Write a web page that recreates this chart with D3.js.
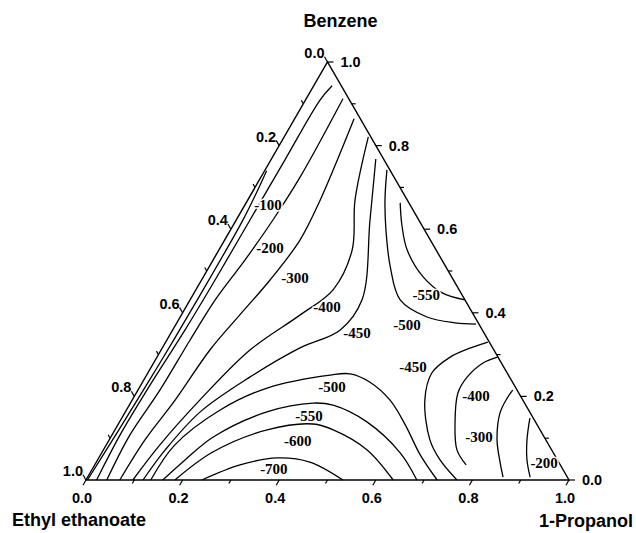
<!DOCTYPE html>
<html><head><meta charset="utf-8">
<script src="https://cdn.jsdelivr.net/npm/d3@7"></script>
<style>
body{margin:0;background:#fff;}
svg{display:block;}
</style></head>
<body><svg id="chart" width="636" height="533"></svg>
<script>
// ---- axis data ----
const tickValues = [0, 0.2, 0.4, 0.6, 0.8, 1.0];
const tickLabels = ["0.0", "0.2", "0.4", "0.6", "0.8", "1.0"];
const minorTickValues = [0.1, 0.3, 0.5, 0.7, 0.9];
const axisTitles = ["Benzene", "Ethyl ethanoate", "1-Propanol"];

// ---- contour lines: [x(1-Propanol), x(Benzene)] ----
const lineNearEdge = [[0.004,0.74],[0.010,0.68],[0.014,0.62],[0.015,0.44],[0.013,0.28],[0.008,0.12],[0.003,0.0]];
const line100 = [[0.038,0.943],[0.030,0.909],[0.029,0.766],[0.0285,0.622],[0.028,0.479],[0.0256,0.359],[0.019,0.227],[0.0166,0.108],[0.022,0.0]];
const line200 = [[0.076,0.912],[0.081,0.725],[0.076,0.622],[0.066,0.526],[0.052,0.431],[0.048,0.335],[0.0455,0.215],[0.037,0.108],[0.043,0.0]];
const line300 = [[0.123,0.864],[0.150,0.670],[0.156,0.574],[0.142,0.479],[0.121,0.395],[0.101,0.311],[0.089,0.191],[0.074,0.096],[0.070,0.0]];
const line400L = [[0.174,0.821],[0.222,0.670],[0.276,0.550],[0.284,0.455],[0.246,0.395],[0.184,0.311],[0.140,0.191],[0.111,0.084],[0.097,0.0]];
const line450L = [[0.216,0.768],[0.277,0.622],[0.356,0.431],[0.347,0.359],[0.285,0.316],[0.216,0.246],[0.155,0.163],[0.128,0.072],[0.118,0.0]];
const line500U = [[0.252,0.742],[0.284,0.670],[0.322,0.598],[0.375,0.510],[0.435,0.431],[0.511,0.390],[0.576,0.376],[0.621,0.373]];
const line550U = [[0.319,0.663],[0.349,0.610],[0.390,0.550],[0.455,0.486],[0.515,0.447],[0.569,0.431]];
const line500D = [[0.134,0.0],[0.142,0.084],[0.194,0.1675],[0.265,0.220],[0.380,0.251],[0.420,0.254],[0.471,0.234],[0.534,0.191],[0.595,0.132],[0.662,0.060],[0.727,0.0]];
const line550D = [[0.159,0.0],[0.181,0.048],[0.212,0.103],[0.293,0.163],[0.378,0.184],[0.422,0.179],[0.512,0.139],[0.618,0.065],[0.685,0.0]];
const line600D = [[0.184,0.0],[0.229,0.067],[0.315,0.120],[0.403,0.134],[0.452,0.120],[0.546,0.072],[0.636,0.0]];
const line700D = [[0.240,0.0],[0.301,0.036],[0.369,0.053],[0.442,0.043],[0.532,0.0]];
const line450R = [[0.768,0.0],[0.709,0.048],[0.664,0.096],[0.606,0.191],[0.588,0.256],[0.607,0.294],[0.642,0.318],[0.667,0.330]];
const line400R = [[0.705,0.294],[0.682,0.280],[0.666,0.246],[0.666,0.208],[0.696,0.136],[0.732,0.072],[0.769,0.036]];
const line300R = [[0.776,0.215],[0.774,0.196],[0.777,0.160],[0.803,0.096],[0.837,0.041],[0.860,0.007]];
const line200R = [[0.845,0.148],[0.865,0.096],[0.889,0.048],[0.916,0.007]];
const contourLines = [lineNearEdge, line100, line200, line300, line400L, line450L, line500U, line550U,
  line500D, line550D, line600D, line700D, line450R, line400R, line300R, line200R];

// ---- contour labels: [text, x(1-Propanol), x(Benzene)] ----
const labelText = ["-100","-200","-300","-400","-450","-500","-550","-500","-550","-600","-700","-450","-400","-300","-200"];
const labelPropanol = [0.048,0.1035,0.191,0.292,0.385,0.479,0.483,0.398,0.385,0.392,0.376,0.542,0.707,0.762,0.928];
const labelBenzene = [0.658,0.555,0.483,0.414,0.352,0.371,0.443,0.2225,0.153,0.093,0.026,0.270,0.201,0.103,0.041];

// ---- drawing ----
const svg = d3.select("#chart");
const sx = d3.scaleLinear().domain([0, 1]).range([86, 569]);
const sy = d3.scaleLinear().domain([0, 1]).range([480, 62]);
const px = (p, b) => sx(p + b / 2);
const py = (p, b) => sy(b);

const sansFont = "'Liberation Sans', Arial, sans-serif";
const serifFont = "'Liberation Serif', 'Times New Roman', serif";

// triangle frame
const corners = [[0,0],[1,0],[0,1]];
svg.append("path")
  .attr("d", d3.line().x(d => px(d[0], d[1])).y(d => py(d[0], d[1]))(corners) + "Z")
  .attr("fill", "none").attr("stroke", "#000").attr("stroke-width", 1.4);

// contours
const lineGen = d3.line().x(d => px(d[0], d[1])).y(d => py(d[0], d[1])).curve(d3.curveCatmullRom.alpha(0.5));
svg.append("g").selectAll("path").data(contourLines).join("path")
  .attr("d", lineGen).attr("fill", "none").attr("stroke", "#000").attr("stroke-width", 1.3);

// ticks
const cos60 = 0.5, sin60 = Math.sqrt(3) / 2;
const g = svg.append("g").attr("stroke", "#000").attr("stroke-width", 1.2);
const allTicks = tickValues.map(v => ({v, L: 6})).concat(minorTickValues.map(v => ({v, L: 4})));
// bottom axis (1-Propanol): ticks pointing down-left
allTicks.forEach(t => {
  const x = px(t.v, 0), y = py(t.v, 0);
  g.append("line").attr("x1", x).attr("y1", y).attr("x2", x - t.L * cos60).attr("y2", y + t.L * sin60);
});
// right axis (Benzene): ticks pointing right
allTicks.forEach(t => {
  const x = px(1 - t.v, t.v), y = py(1 - t.v, t.v);
  g.append("line").attr("x1", x).attr("y1", y).attr("x2", x + t.L).attr("y2", y);
});
// left axis (Ethyl ethanoate): ticks pointing up-left
allTicks.forEach(t => {
  const x = px(0, 1 - t.v), y = py(0, 1 - t.v);
  g.append("line").attr("x1", x).attr("y1", y).attr("x2", x - t.L * cos60).attr("y2", y - t.L * sin60);
});

// tick labels
const tl = svg.append("g").attr("font-family", sansFont).attr("font-weight", "bold").attr("font-size", 14.5).attr("fill", "#000");
tickValues.forEach((v, i) => {
  tl.append("text").attr("x", px(v, 0) - 4).attr("y", py(v, 0) + 23).attr("text-anchor", "middle").text(tickLabels[i]);
  tl.append("text").attr("x", px(1 - v, v) + 13).attr("y", py(1 - v, v) + 5).attr("text-anchor", "start").text(tickLabels[i]);
  tl.append("text").attr("x", px(0, 1 - v) - 3).attr("y", py(0, 1 - v) - 4).attr("text-anchor", "end").text(tickLabels[i]);
});

// axis titles
const at = svg.append("g").attr("font-family", sansFont).attr("font-weight", "bold").attr("font-size", 18).attr("fill", "#000");
at.append("text").attr("x", 340.5).attr("y", 27).attr("text-anchor", "middle").text(axisTitles[0]);
at.append("text").attr("x", 12).attr("y", 526).attr("text-anchor", "start").text(axisTitles[1]);
at.append("text").attr("x", 633).attr("y", 527).attr("text-anchor", "end").text(axisTitles[2]);

// contour labels
svg.append("g").selectAll("text").data(labelText).join("text")
  .attr("x", (d, i) => px(labelPropanol[i], labelBenzene[i]))
  .attr("y", (d, i) => py(labelPropanol[i], labelBenzene[i]) + 5)
  .attr("text-anchor", "middle")
  .attr("font-family", serifFont).attr("font-weight", "bold").attr("font-size", 15)
  .attr("fill", "#000")
  .attr("stroke", "#fff").attr("stroke-width", 3).attr("paint-order", "stroke")
  .text(d => d);
</script>
</body></html>
